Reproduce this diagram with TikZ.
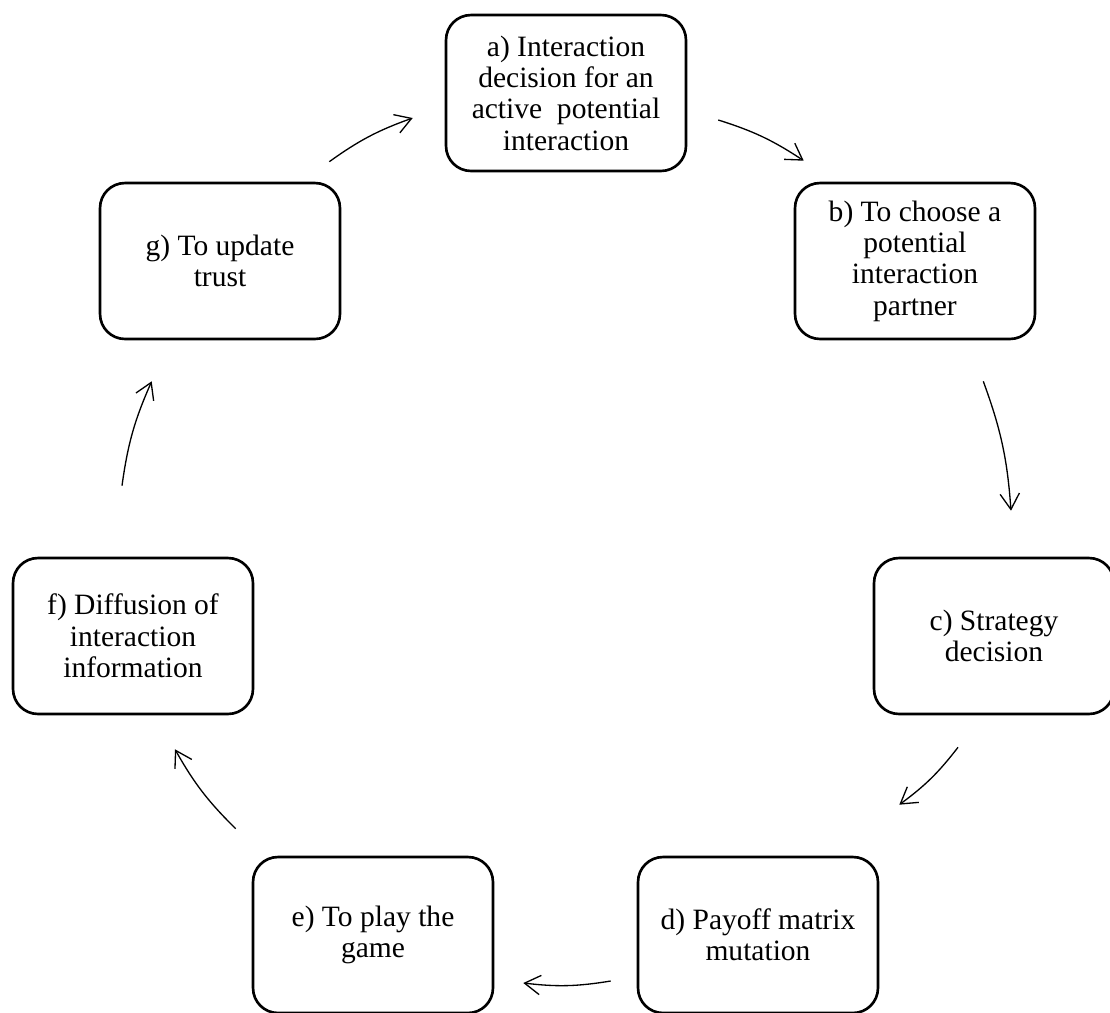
\documentclass[tikz,border=0pt]{standalone}
\usepackage{fontspec}
\setmainfont{Liberation Serif}
\usetikzlibrary{arrows.meta}

\begin{document}
\begin{tikzpicture}[
		x=0.02cm,y=-0.02cm,
		stage/.style={draw,line width=1.5pt,rounded corners=0.5cm,
			minimum width=4.8cm,minimum height=3.12cm,align=center,
			inner sep=2pt,font=\fontsize{16.8}{17.8}\selectfont},
		cycle arrow/.style={-{Straight Barb[length=9pt,width=11pt]},
			line width=0.75pt,bend left=8}
		]
		\useasboundingbox (0,0) rectangle (1110,1012);
		\clip (0,0) rectangle (1110,1012);

		\node[stage] (a) at (566,93)  {a) Interaction\\decision for an\\active\ \ potential\\interaction};
		\node[stage] (b) at (915,261) {b) To choose a\\potential\\interaction\\partner};
		\node[stage] (c) at (994,636) {c) Strategy\\decision};
		\node[stage] (d) at (758,935) {d) Payoff matrix\\mutation};
		\node[stage] (e) at (373,935) {e) To play the\\game};
		\node[stage] (f) at (133,636) {f) Diffusion of\\interaction\\information};
		\node[stage] (g) at (220,261) {g) To update\\trust};

		\draw[cycle arrow] ([shift={(-12,-20)}]g.north east) to ([shift={(-32,25)}]a.west);
		\draw[cycle arrow] ([shift={(31,27)}]a.east) to ([shift={(10,-21)}]b.north west);
		\draw[cycle arrow] ([shift={(-53,41)}]b.south east) to ([shift={(17,-46)}]c.north);
		\draw[cycle arrow] ([shift={(-36,32)}]c.south) to ([shift={(20,-51)}]d.north east);
		\draw[cycle arrow] ([shift={(-26,46)}]d.west) to ([shift={(29,48)}]e.east);
		\draw[cycle arrow] ([shift={(-16,-27)}]e.north west) to ([shift={(42,34)}]f.south);
		\draw[cycle arrow] ([shift={(-11,-71)}]f.north) to ([shift={(53,41)}]g.south west);
	\end{tikzpicture}
\end{document}
